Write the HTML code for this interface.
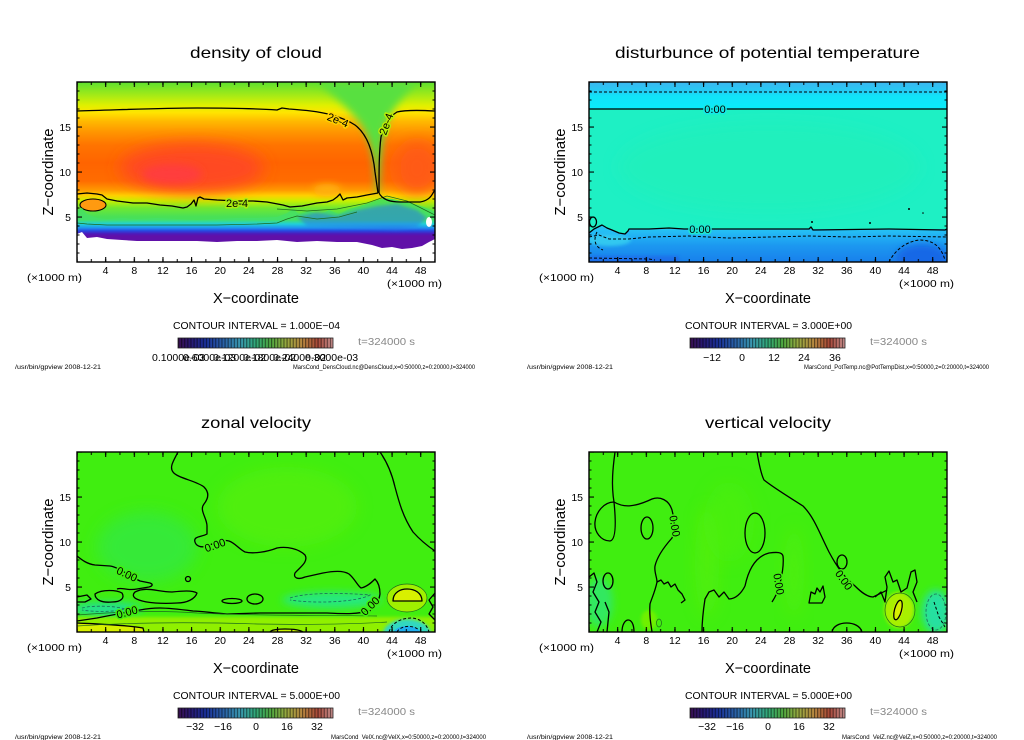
<!DOCTYPE html>
<html><head><meta charset="utf-8"><title>gpview</title>
<style>
html,body{margin:0;padding:0;background:#fff;width:1024px;height:740px;overflow:hidden}
svg{display:block;font-family:"Liberation Sans",sans-serif}
.k{fill:none;stroke:#000;stroke-width:1.3;stroke-linejoin:round}
.g{fill:none;stroke:#1d6a1d;stroke-width:0.7}
.d{fill:none;stroke:#000;stroke-width:1;stroke-dasharray:3 2}
.dg{fill:none;stroke:#1d6a5a;stroke-width:0.8;stroke-dasharray:3 2}
.lb{font-size:11px;paint-order:stroke;stroke-width:3;stroke-linejoin:round}
</style></head><body>
<svg width="1024" height="740" viewBox="0 0 1024 740" xmlns="http://www.w3.org/2000/svg">
<defs>
 <clipPath id="pc"><rect x="0" y="0" width="358" height="180"/></clipPath>
 <filter id="b8" x="-50%" y="-50%" width="200%" height="200%"><feGaussianBlur stdDeviation="8"/></filter>
 <filter id="b4" x="-50%" y="-50%" width="200%" height="200%"><feGaussianBlur stdDeviation="4"/></filter>
 <filter id="b2" x="-50%" y="-50%" width="200%" height="200%"><feGaussianBlur stdDeviation="1.5"/></filter>
 <pattern id="tx2" patternUnits="userSpaceOnUse" x="-7.16" y="0" width="14.32" height="10"><rect x="6.66" y="0" width="1" height="10" fill="#000"/></pattern>
 <pattern id="tx4" patternUnits="userSpaceOnUse" x="-14.32" y="0" width="28.64" height="10"><rect x="13.82" y="0" width="1.1" height="10" fill="#000"/></pattern>
 <pattern id="ty1" patternUnits="userSpaceOnUse" x="0" y="-4.5" width="10" height="9"><rect x="0" y="4" width="10" height="1" fill="#000"/></pattern>
 <pattern id="ty5" patternUnits="userSpaceOnUse" x="0" y="-22.5" width="10" height="45"><rect x="0" y="22" width="10" height="1.1" fill="#000"/></pattern>
 <pattern id="cbs" patternUnits="userSpaceOnUse" x="178" y="0" width="3.1" height="20"><rect x="0" y="0" width="1.1" height="20" fill="#000" opacity="0.5"/></pattern>
 <linearGradient id="cbg" x1="0" y1="0" x2="1" y2="0">
  <stop offset="0" stop-color="#3a1050"/><stop offset="0.08" stop-color="#281870"/>
  <stop offset="0.18" stop-color="#1a3098"/><stop offset="0.3" stop-color="#2a64a8"/>
  <stop offset="0.4" stop-color="#3a98b0"/><stop offset="0.5" stop-color="#30a878"/>
  <stop offset="0.6" stop-color="#50a840"/><stop offset="0.7" stop-color="#98a840"/>
  <stop offset="0.8" stop-color="#b88840"/><stop offset="0.9" stop-color="#a84838"/>
  <stop offset="1" stop-color="#c89090"/>
 </linearGradient>
 <linearGradient id="gd" x1="0" y1="0" x2="0" y2="1">
  <stop offset="0" stop-color="#5ce030"/><stop offset="0.07" stop-color="#a0ea18"/>
  <stop offset="0.13" stop-color="#e0f000"/><stop offset="0.17" stop-color="#ffe400"/>
  <stop offset="0.22" stop-color="#ffb800"/><stop offset="0.28" stop-color="#ff9400"/>
  <stop offset="0.35" stop-color="#ff7400"/><stop offset="0.45" stop-color="#ff6400"/>
  <stop offset="0.55" stop-color="#ff6c00"/><stop offset="0.6" stop-color="#ff9800"/>
  <stop offset="0.63" stop-color="#ffd000"/><stop offset="0.66" stop-color="#c8f000"/>
  <stop offset="0.7" stop-color="#70e830"/><stop offset="0.75" stop-color="#48e058"/>
  <stop offset="1" stop-color="#48e058"/>
 </linearGradient>
 <linearGradient id="gl" gradientUnits="userSpaceOnUse" x1="0" y1="118" x2="0" y2="162">
  <stop offset="0" stop-color="#50e050"/><stop offset="0.45" stop-color="#44e068"/>
  <stop offset="0.545" stop-color="#20d0d8"/><stop offset="0.636" stop-color="#2090f0"/>
  <stop offset="0.70" stop-color="#2848e0"/><stop offset="0.77" stop-color="#5018b8"/>
  <stop offset="0.82" stop-color="#6010a8"/><stop offset="1" stop-color="#6010a8"/>
 </linearGradient>
 <linearGradient id="gt1" x1="0" y1="0" x2="0" y2="1">
  <stop offset="0" stop-color="#3cb6f0"/><stop offset="0.35" stop-color="#24ccf4"/>
  <stop offset="0.5" stop-color="#12e2f8"/><stop offset="1" stop-color="#0aecfa"/>
 </linearGradient>
 <linearGradient id="gt2" gradientUnits="userSpaceOnUse" x1="0" y1="147" x2="0" y2="180">
  <stop offset="0" stop-color="#26c4f4"/><stop offset="0.2" stop-color="#22b2f4"/>
  <stop offset="0.5" stop-color="#1c98f0"/><stop offset="1" stop-color="#1880ec"/>
 </linearGradient>
 <g id="frame">
  <rect x="0" y="177" width="358" height="3" fill="url(#tx2)"/>
  <rect x="0" y="175" width="358" height="5" fill="url(#tx4)"/>
  <rect x="0" y="0" width="358" height="3" fill="url(#tx2)"/>
  <rect x="0" y="0" width="358" height="5" fill="url(#tx4)"/>
  <rect x="0" y="0" width="2.5" height="180" fill="url(#ty1)"/>
  <rect x="0" y="0" width="5" height="180" fill="url(#ty5)"/>
  <rect x="355.5" y="0" width="2.5" height="180" fill="url(#ty1)"/>
  <rect x="353" y="0" width="5" height="180" fill="url(#ty5)"/>
  <rect x="0" y="0" width="358" height="180" fill="none" stroke="#000" stroke-width="1.4"/>
 </g>
 <g id="axt" font-size="10.5" fill="#000">
  <text x="71" y="131" text-anchor="end">15</text>
  <text x="71" y="176" text-anchor="end">10</text>
  <text x="71" y="221" text-anchor="end">5</text>
  <text x="105.6" y="274" text-anchor="middle">4</text>
  <text x="134.3" y="274" text-anchor="middle">8</text>
  <text x="162.9" y="274" text-anchor="middle">12</text>
  <text x="191.6" y="274" text-anchor="middle">16</text>
  <text x="220.2" y="274" text-anchor="middle">20</text>
  <text x="248.8" y="274" text-anchor="middle">24</text>
  <text x="277.5" y="274" text-anchor="middle">28</text>
  <text x="306.1" y="274" text-anchor="middle">32</text>
  <text x="334.8" y="274" text-anchor="middle">36</text>
  <text x="363.4" y="274" text-anchor="middle">40</text>
  <text x="392.0" y="274" text-anchor="middle">44</text>
  <text x="420.7" y="274" text-anchor="middle">48</text>
  <text x="27" y="281" textLength="55" lengthAdjust="spacingAndGlyphs">(×1000 m)</text>
  <text x="387" y="287" textLength="55" lengthAdjust="spacingAndGlyphs">(×1000 m)</text>
  <text x="213" y="303" font-size="15" textLength="86" lengthAdjust="spacingAndGlyphs">X−coordinate</text>
  <text transform="translate(53,172) rotate(-90)" font-size="15" text-anchor="middle" textLength="87" lengthAdjust="spacingAndGlyphs">Z−coordinate</text>
 </g>
 <g id="cb">
  <rect x="178" y="338" width="155" height="10" fill="url(#cbg)"/>
  <rect x="178" y="338" width="155" height="10" fill="url(#cbs)"/>
  <rect x="178" y="338" width="155" height="10" fill="none" stroke="#222" stroke-width="0.8"/>
  <text x="358" y="345" font-size="10.5" fill="#888" textLength="57" lengthAdjust="spacingAndGlyphs">t=324000  s</text>
  <text x="15" y="369" font-size="6.5" fill="#000" textLength="86" lengthAdjust="spacingAndGlyphs">/usr/bin/gpview   2008-12-21</text>
 </g>
</defs>

<!-- ===== Panel 1: density of cloud ===== -->
<text x="190" y="58" font-size="16" textLength="132" lengthAdjust="spacingAndGlyphs">density of cloud</text>
<use href="#axt"/>
<use href="#cb"/>
<text x="173" y="329" font-size="10" textLength="167" lengthAdjust="spacingAndGlyphs">CONTOUR INTERVAL = 1.000E−04</text>
<g font-size="10.5">
 <text x="152" y="361">0.1000e-03</text>
 <text x="183" y="361">0.6000e-03</text>
 <text x="213" y="361">0.1200e-02</text>
 <text x="243" y="361">0.1800e-02</text>
 <text x="273" y="361">0.2400e-02</text>
 <text x="305" y="361">0.3000e-03</text>
</g>
<text x="293" y="369" font-size="6" textLength="182" lengthAdjust="spacingAndGlyphs">MarsCond_DensCloud.nc@DensCloud,x=0:50000,z=0:20000,t=324000</text>

<g transform="translate(77,82)">
 <g clip-path="url(#pc)">
  <rect width="358" height="180" fill="url(#gd)"/>
  <ellipse cx="115" cy="86" rx="72" ry="24" fill="#ff4820" filter="url(#b8)"/>
  <ellipse cx="95" cy="92" rx="30" ry="10" fill="#ff3c3c" filter="url(#b4)"/>
  <ellipse cx="340" cy="86" rx="22" ry="26" fill="#ff5a14" filter="url(#b8)"/>
  <ellipse cx="250" cy="108" rx="14" ry="6" fill="#ffb010" filter="url(#b4)"/>
  <path d="M240,0 L340,0 C330,12 318,22 310,40 C305,55 303,80 302,112 L299,112 C298,80 294,55 282,40 C270,25 255,12 240,0 Z" fill="#58e040" filter="url(#b4)"/>
  <ellipse cx="16" cy="123" rx="13" ry="6" fill="#ff9a10" stroke="#000" stroke-width="1.1"/>
  <polygon fill="url(#gl)" points="0,128 5,126 10,132 20,136 30,137 45,136 60,137 80,136 100,137 120,138 140,137 160,136 180,136 200,135 210,131 216,127 222,132 232,129 242,133 252,128 262,132 272,127 282,124 292,121 300,118 308,116 316,117 324,119 334,121 344,124 352,127 358,130 358,180 0,180"/>
  <path d="M220,135 L240,130 L260,134 L280,128 L300,124 L320,122 L340,128 L350,136 L340,145 L320,148 L290,146 L260,145 L230,144 Z" fill="#2878e8" opacity="0.55" filter="url(#b2)"/>
  <path class="g" d="M0,141 L10,142 L30,143 L60,143 L100,143 L140,143 L180,142 L200,141 L210,137 L220,134 L240,137 L262,135 L280,130 M200,127 L230,129 L260,127 L290,121 L310,114 L330,119 L350,129 L358,133"/>
  <polygon fill="#fff" points="0,152 5,150 10,156 20,155 30,157 45,158 60,159 80,159 100,159 120,159 140,160 160,159 180,159 200,158 220,160 240,159 260,160 280,160 295,163 305,166 315,165 325,167 335,166 345,164 352,160 358,157 358,181 0,181"/>
  <ellipse cx="352" cy="140" rx="3" ry="5" fill="#fff"/>
 </g>
 <path class="k" d="M0,29 C40,28 80,26 120,26 C160,26 185,27 200,28 L205,26 L212,27 C225,28 240,29 255,33 C265,36 272,39 278,43 C290,52 296,70 298,90 L301,111"/>
 <path class="k" d="M0,112 L10,111 L20,112 L25,113 L30,117 L40,119 L56,121 L70,121 L83,123 L95,124 L106,126 L110,125 L114,122 L117,118 L119,124 L121,116 L123,115 L127,117 L140,118 L160,119 L176,119 L190,120 L206,123 L213,125 L225,124 L240,121 L250,120 L256,118 L260,115 L263,112 L266,118 L270,116 L280,115 L290,113 L301,111"/>
 <path class="k" d="M302,111 C302,90 302,70 304,55 C307,42 312,35 320,30 C328,28 340,28 358,29"/>
 <path class="k" d="M302,111 C305,117 312,120 323,120 L343,120 C350,119 354,115 356,111 L358,108"/>
 <text class="lb" x="261" y="42" text-anchor="middle" transform="rotate(22 261 38)" stroke="#ffd000">2e-4</text>
 <text class="lb" x="160" y="125" text-anchor="middle" stroke="#a8ec10">2e-4</text>
 <text class="lb" x="309" y="46" text-anchor="middle" transform="rotate(-70 309 42)" stroke="#b8ee08">2e-4</text>
 <use href="#frame"/>
</g>

<!-- ===== Panel 2: potential temperature ===== -->
<text x="615" y="58" font-size="16" textLength="305" lengthAdjust="spacingAndGlyphs">disturbunce of potential temperature</text>
<use href="#axt" transform="translate(512,0)"/>
<use href="#cb" transform="translate(512,0)"/>
<text x="685" y="329" font-size="10" textLength="167" lengthAdjust="spacingAndGlyphs">CONTOUR INTERVAL = 3.000E+00</text>
<g font-size="10.5" text-anchor="middle">
 <text x="712" y="361">−12</text><text x="742" y="361">0</text><text x="774" y="361">12</text><text x="804" y="361">24</text><text x="835" y="361">36</text>
</g>
<text x="804" y="369" font-size="6" textLength="185" lengthAdjust="spacingAndGlyphs">MarsCond_PotTemp.nc@PotTempDist,x=0:50000,z=0:20000,t=324000</text>

<g transform="translate(589,82)">
 <g clip-path="url(#pc)">
  <rect width="358" height="27" fill="url(#gt1)"/>
  <rect y="27" width="358" height="126" fill="#1ef0c4"/>
  <ellipse cx="180" cy="85" rx="150" ry="45" fill="#22f0b8" filter="url(#b8)" opacity="0.6"/>
  <path fill="url(#gt2)" d="M0,151 L5,147 L13,143 L18,146 L23,148 L30,151 L36,152 L39,149 L40,147 L95,147 L220,147 L300,147 L358,147 L358,180 L0,180 Z"/>
  <ellipse cx="20" cy="158" rx="22" ry="6" fill="#30c8f0" filter="url(#b2)"/>
  <ellipse cx="333" cy="176" rx="26" ry="14" fill="#1668e6" filter="url(#b4)"/>
  <rect x="0" y="174" width="90" height="8" fill="#1a70ea" filter="url(#b2)"/>
 </g>
 <path class="d" d="M0,10 L358,10"/>
 <path class="k" d="M0,27 L358,27"/>
 <path class="k" d="M0,151 L5,147 L13,143 L18,146 L23,148 L30,151 L36,152 L39,149 L40,147 L60,147 L80,146 L95,147 L220,147 L222,145 L224,148 L300,147 L356,148 L358,147"/>
 <path class="d" d="M0,155 L10,153 L20,157 L40,157 L60,155 L100,154 L140,156 L180,155 L220,154 L260,155 L300,154 L358,155"/>
 <path class="d" d="M8,150 C4,158 6,165 14,168 M300,180 C305,170 315,160 330,158 C345,158 352,165 356,178 M0,176 L60,177 L66,178"/>
 <ellipse class="k" cx="4" cy="140" rx="3.5" ry="5" stroke-width="1"/>
 <g fill="#000"><circle cx="223" cy="140" r="1"/><circle cx="281" cy="141" r="1"/><circle cx="320" cy="127" r="1"/><circle cx="334" cy="131" r="0.8"/></g>
 <text class="lb" x="126" y="31" text-anchor="middle" stroke="#14e8e8">0.00</text>
 <text class="lb" x="111" y="151" text-anchor="middle" stroke="#1ee8d0">0.00</text>
 <use href="#frame"/>
</g>

<!-- ===== Panel 3: zonal velocity ===== -->
<text x="201" y="428" font-size="16" textLength="110" lengthAdjust="spacingAndGlyphs">zonal velocity</text>
<use href="#axt" transform="translate(0,370)"/>
<use href="#cb" transform="translate(0,370)"/>
<text x="173" y="699" font-size="10" textLength="167" lengthAdjust="spacingAndGlyphs">CONTOUR INTERVAL = 5.000E+00</text>
<g font-size="10.5" text-anchor="middle">
 <text x="195" y="730">−32</text><text x="223" y="730">−16</text><text x="256" y="730">0</text><text x="287" y="730">16</text><text x="317" y="730">32</text>
</g>
<text x="331" y="739" font-size="6" textLength="155" lengthAdjust="spacingAndGlyphs">MarsCond_VelX.nc@VelX,x=0:50000,z=0:20000,t=324000</text>

<g transform="translate(77,452)">
 <g clip-path="url(#pc)">
  <rect width="358" height="180" fill="#40ee10"/>
  <ellipse cx="70" cy="95" rx="50" ry="35" fill="#30e848" filter="url(#b8)" opacity="0.7"/>
  <ellipse cx="210" cy="55" rx="70" ry="40" fill="#5af010" filter="url(#b8)" opacity="0.6"/>
  <ellipse cx="30" cy="157" rx="35" ry="7" fill="#20e090" filter="url(#b4)"/>
  <ellipse cx="255" cy="148" rx="50" ry="8" fill="#28e880" filter="url(#b4)"/>
  <rect x="0" y="165" width="358" height="16" fill="#90f000" filter="url(#b2)"/>
  <path d="M0,171 C20,172 50,173 66,176 L66,181 L0,181 Z" fill="#d8f000"/>
  <path d="M193,181 C195,176 220,176 226,181 Z" fill="#c8f000"/>
  <ellipse cx="330" cy="146" rx="20" ry="14" fill="#a0f000"/>
  <path d="M316,149 C316,140 324,137 330,137 C338,137 345,141 345,149 Z" fill="#d8f000"/>
  <ellipse cx="330" cy="182" rx="24" ry="15" fill="#30d8c0" filter="url(#b2)"/>
  <ellipse cx="330" cy="182" rx="14" ry="8" fill="#20b0f0"/>
 </g>
 <path class="k" d="M101,0 C97,8 92,15 96,20 C100,26 120,29 127,35 C133,41 131,47 127,52 C122,58 130,66 130,74 L130,82 C125,85 116,84 118,90 C119,94 124,96 130,94 C138,91 145,87 152,89 C158,91 162,97 168,100 C176,102 190,100 200,96 C210,94 222,97 228,103 C232,110 222,116 218,121 C216,126 221,128 228,125 L246,121 C256,119 266,118 272,122 C278,127 280,133 284,136 C290,135 295,130 298,127 C302,131 303,137 303,142 C302,150 297,156 290,159 C282,162 270,162 250,161 L183,161 L150,162 C135,161 125,159 116,159 C100,157 90,156 83,156 C75,156 68,157 63,158 C52,160 40,162 20,166 L0,169"/>
 <path class="k" d="M0,104 C5,108 10,112 18,113 L33,114 C40,115 47,120 55,125 L63,129 L73,131 C76,132 76,134 72,135 L60,137 C50,139 45,135 40,137"/>
 <path class="k" d="M303,0 C310,10 315,22 318,35 C322,50 326,65 336,80 C345,90 352,95 358,99"/>
 <path class="k" d="M18,142 C25,137 40,138 45,141 C48,146 44,150 35,150 C25,151 18,148 18,142 Z"/>
 <path class="k" d="M58,140 C70,134 80,140 95,140 C105,139 115,138 120,141 C118,147 110,151 100,151 C85,152 70,151 62,148 C56,146 55,143 58,140 Z"/>
 <path class="k" d="M0,145 L10,143 L14,147 L8,150 L0,150"/>
 <ellipse class="k" cx="155" cy="149" rx="10" ry="2.5"/>
 <ellipse class="k" cx="178" cy="147" rx="8" ry="5"/>
 <circle class="k" cx="111" cy="127" r="2.5"/>
 <path class="k" d="M0,171 C20,172 50,173 66,176 L67,180 M193,180 C195,176 220,176 226,180"/>
 <path class="k" d="M316,149 C316,140 324,137 330,137 C338,137 345,141 345,149 Z"/>
 <path class="k" d="M358,141 L352,148 L356,155 L352,162 L358,168"/>
 <ellipse class="g" cx="330" cy="146" rx="20" ry="14"/>
 <path class="g" d="M0,163 C40,160 80,158 120,161 C180,164 240,163 300,164 M0,174 C60,170 120,170 180,172 C240,173 280,172 310,170"/>
 <path class="dg" d="M5,156 C15,153 40,154 48,157 C40,160 15,160 5,158 M213,146 C230,140 270,141 293,143 C280,150 240,152 213,148"/>
 <path class="d" d="M312,180 C315,170 325,166 335,166 C345,167 350,173 352,180 M320,180 C323,174 335,172 342,178"/>
 <g fill="#000">
  <text class="lb" x="138" y="97" text-anchor="middle" transform="rotate(-20 138 93)" stroke="#40ee10">0.00</text>
  <text class="lb" x="50" y="164" text-anchor="middle" transform="rotate(-15 50 160)" stroke="#40ee10">0.00</text>
  <text class="lb" x="293" y="158" text-anchor="middle" transform="rotate(-45 293 154)" stroke="#40ee10">0.00</text>
  <text class="lb" x="50" y="126" text-anchor="middle" transform="rotate(25 50 122)" stroke="#40ee10">0.00</text>
 </g>
 <use href="#frame"/>
</g>

<!-- ===== Panel 4: vertical velocity ===== -->
<text x="705" y="428" font-size="16" textLength="126" lengthAdjust="spacingAndGlyphs">vertical velocity</text>
<use href="#axt" transform="translate(512,370)"/>
<use href="#cb" transform="translate(512,370)"/>
<text x="685" y="699" font-size="10" textLength="167" lengthAdjust="spacingAndGlyphs">CONTOUR INTERVAL = 5.000E+00</text>
<g font-size="10.5" text-anchor="middle">
 <text x="707" y="730">−32</text><text x="735" y="730">−16</text><text x="768" y="730">0</text><text x="799" y="730">16</text><text x="829" y="730">32</text>
</g>
<text x="842" y="739" font-size="6" textLength="155" lengthAdjust="spacingAndGlyphs">MarsCond_VelZ.nc@VelZ,x=0:50000,z=0:20000,t=324000</text>

<g transform="translate(589,452)">
 <g clip-path="url(#pc)">
  <rect width="358" height="180" fill="#40ee10"/>
  <ellipse cx="118" cy="110" rx="12" ry="55" fill="#5af010" filter="url(#b8)" opacity="0.6"/>
  <ellipse cx="205" cy="120" rx="10" ry="45" fill="#5af010" filter="url(#b8)" opacity="0.5"/>
  <ellipse cx="140" cy="70" rx="25" ry="40" fill="#50f010" filter="url(#b8)" opacity="0.5"/>
  <ellipse cx="10" cy="150" rx="14" ry="25" fill="#30e860" filter="url(#b4)"/>
  <ellipse cx="347" cy="160" rx="14" ry="22" fill="#28e0a0" filter="url(#b4)"/>
  <ellipse cx="310" cy="158" rx="15" ry="18" fill="#a8f000" filter="url(#b2)"/>
  <ellipse cx="309" cy="158" rx="5" ry="10" fill="#d8f000" transform="rotate(15 309 158)"/>
  <ellipse cx="60" cy="168" rx="8" ry="10" fill="#70f000" filter="url(#b2)"/>
 </g>
 <path class="k" d="M26,0 C24,15 22,32 25,50"/>
 <path class="k" d="M25,50 C15,50 7,60 6,70 C5,80 12,89 21,89 C27,88 27,70 25,50 Z"/>
 <path class="k" d="M25,50 C35,56 46,55 63,47 C71,44 80,48 83,58 C86,70 86,80 83,86 C75,95 68,105 66,114 C65,120 68,125 68,130 C66,140 62,148 61,152 C60,165 62,172 63,180"/>
 <path class="k" d="M68,130 L72,128 L75,132 L79,130 L82,135 L86,132 L89,138 L93,142 L96,148 L92,151"/>
 <ellipse class="k" cx="58" cy="76" rx="6" ry="11"/>
 <ellipse class="k" cx="166" cy="81" rx="10" ry="20"/>
 <path class="k" d="M168,0 C170,12 172,22 175,28 C185,36 200,45 214,54 C225,65 230,80 240,100 C248,115 255,125 266,134 C272,140 278,145 284,145 C290,142 295,140 298,138"/>
 <path class="k" d="M156,134 C160,115 168,104 180,101 C188,100 193,100 194,104 C195,112 193,125 190,135 C188,142 185,147 183,150"/>
 <path class="k" d="M156,134 C152,142 146,147 140,147 L135,140 L130,145 L125,138 L120,140 L116,147 C114,160 113,170 113,180"/>
 <ellipse class="k" cx="253" cy="110" rx="5" ry="7"/>
 <path class="k" d="M220,151 L222,140 L226,142 L228,136 L231,140 L234,134 L236,145 L233,151 Z"/>
 <path class="k" d="M0,125 L5,121 L8,130 L4,140 L10,150 L6,160 L12,170 L8,180 M16,150 L20,160 L18,180"/>
 <ellipse class="k" cx="19" cy="129" rx="5" ry="8"/>
 <path class="k" d="M33,180 C33,165 45,163 45,180 M243,180 C245,168 270,168 273,180"/>
 <path class="k" d="M286,145 L292,140 L296,150 L298,135 L296,125 L300,119 L304,130 L308,128 L312,140 L318,136 L322,120 L326,118 L328,130 L324,140 L328,150"/>
 <ellipse class="k" cx="309" cy="158" rx="3.5" ry="10" transform="rotate(15 309 158)"/>
 <ellipse class="g" cx="311" cy="158" rx="15" ry="17"/>
 <ellipse class="g" cx="70" cy="171" rx="2.5" ry="4"/>
 <ellipse class="dg" cx="347" cy="160" rx="10" ry="18"/>
 <path class="d" d="M345,150 L350,165 L356,175"/>
 <g fill="#000">
  <text class="lb" x="86" y="78" text-anchor="middle" transform="rotate(80 86 74)" stroke="#40ee10">0.00</text>
  <text class="lb" x="190" y="136" text-anchor="middle" transform="rotate(80 190 132)" stroke="#40ee10">0.00</text>
  <text class="lb" x="255" y="132" text-anchor="middle" transform="rotate(55 255 128)" stroke="#40ee10">0.00</text>
 </g>
 <use href="#frame"/>
</g>
</svg>
</body></html>
